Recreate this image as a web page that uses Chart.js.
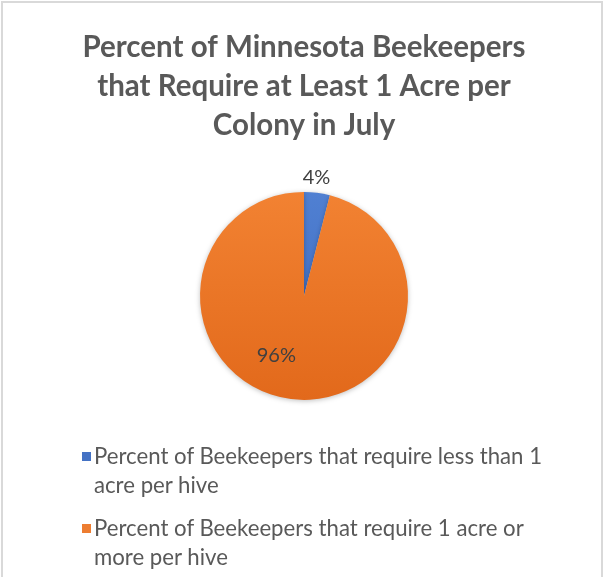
<!DOCTYPE html>
<html>
<head>
<meta charset="utf-8">
<script src="https://cdn.jsdelivr.net/npm/chart.js@4/dist/chart.umd.min.js"></script>
<style>
  html, body { margin: 0; padding: 0; background: #fff; }
  #frame { position: absolute; left: 1px; top: 1px; width: 602px; height: 576px;
           border: 2px solid #d9d9d9; border-bottom: none; box-sizing: border-box; }
  #chart { position: absolute; left: 0; top: 0; }
  #legend { position: absolute; left: 82px; top: 441px; font-family: Lato, sans-serif;
            font-size: 22.2px; color: #595959; }
  .item { display: flex; align-items: flex-start; margin-bottom: 14px; }
  .box { width: 9px; height: 9px; margin: 11px 3px 0 0; flex: none; }
  .txt { line-height: 29px; width: 470px; }
</style>
</head>
<body>
<div id="frame"></div>
<canvas id="chart" width="604" height="577"></canvas>
<div id="legend"></div>
<script>
const titleLines = ["Percent of Minnesota Beekeepers", "that Require at Least 1 Acre per", "Colony in July"];
const categories = ["Percent of Beekeepers that require less than 1 acre per hive",
                    "Percent of Beekeepers that require 1 acre or more per hive"];
const values = [4, 96];
const colors = ["#4472C4", "#ED7D31"];
const shades = [["#5080D2", "#3A66BC"], ["#F28232", "#E2691B"]];

// data labels like Excel: small slice outside, big slice inside (best fit)
const sliceLabels = {
  id: "sliceLabels",
  afterDatasetsDraw(chart) {
    const ctx = chart.ctx;
    const meta = chart.getDatasetMeta(0);
    const total = values.reduce((a, b) => a + b, 0);
    const place = [[1.14, -0.02], [0.63, 0.31]];
    ctx.save();
    ctx.font = "20px Lato";
    ctx.fillStyle = "#404040";
    ctx.textAlign = "center";
    ctx.textBaseline = "middle";
    meta.data.forEach((arc, i) => {
      const p = arc.getProps(["x", "y", "startAngle", "endAngle", "outerRadius"], true);
      const a = (p.startAngle + p.endAngle) / 2 + place[i][1];
      const r = p.outerRadius * place[i][0];
      ctx.fillText(Math.round(values[i] / total * 100) + "%", p.x + Math.cos(a) * r, p.y + Math.sin(a) * r);
    });
    ctx.restore();
  }
};

const pieShadow = {
  id: "pieShadow",
  beforeDatasetsDraw(chart) {
    const ctx = chart.ctx;
    ctx.save();
    ctx.shadowColor = "rgba(0,0,0,0.25)";
    ctx.shadowBlur = 5;
    ctx.shadowOffsetY = 1;
  },
  afterDatasetsDraw(chart) {
    chart.ctx.restore();
  }
};

const chart = new Chart(document.getElementById("chart").getContext("2d"), {
  type: "pie",
  data: {
    labels: categories,
    datasets: [{
      data: values,
      backgroundColor: (c) => {
        const area = c.chart.chartArea;
        if (!area) return colors[c.dataIndex];
        const g = c.chart.ctx.createLinearGradient(0, 192, 0, 400);
        g.addColorStop(0, shades[c.dataIndex][0]);
        g.addColorStop(1, shades[c.dataIndex][1]);
        return g;
      },
      borderWidth: 0,
    }],
  },
  options: {
    responsive: false,
    animation: false,
    radius: 104,
    layout: { padding: { left: 4, bottom: 130 } },
    plugins: {
      legend: { display: false },
      tooltip: { enabled: false },
      title: {
        display: true,
        text: titleLines,
        color: "#595959",
        font: { family: "Lato", weight: "bold", size: 29.5, lineHeight: 1.32 },
        padding: { top: 28, bottom: 0 },
      },
    },
  },
  plugins: [pieShadow, sliceLabels],
});

// legend as real text, wrapped like the original
const legend = document.getElementById("legend");
categories.forEach((name, i) => {
  const item = document.createElement("div");
  item.className = "item";
  item.innerHTML = '<span class="box" style="background:' + colors[i] + '"></span><span class="txt">' + name + '</span>';
  legend.appendChild(item);
});
</script>
</body>
</html>
